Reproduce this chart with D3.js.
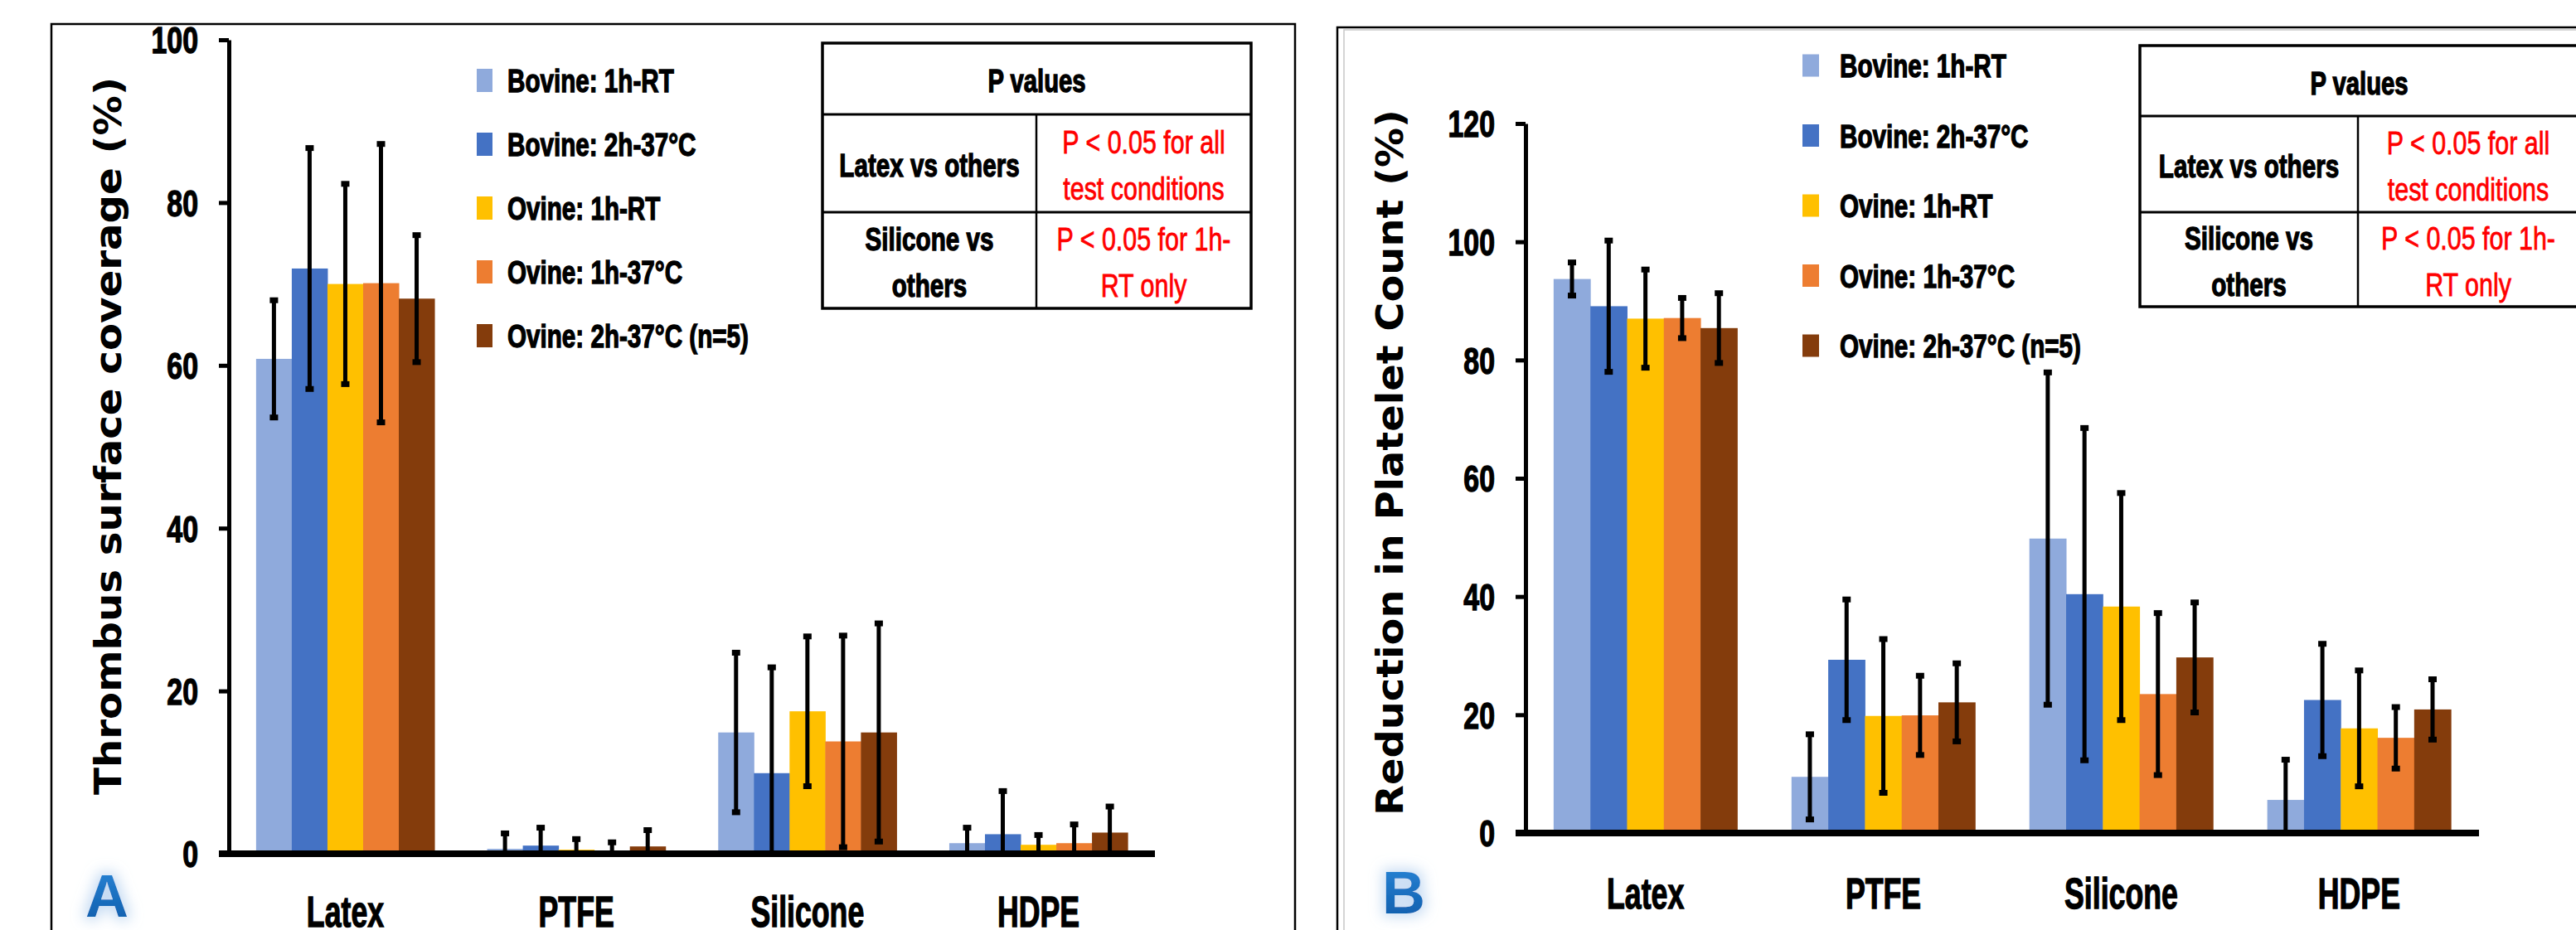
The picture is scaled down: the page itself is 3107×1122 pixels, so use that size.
<!DOCTYPE html>
<html lang="en">
<head>
<meta charset="utf-8">
<style>
  body { margin: 0; background: #fff; }
  svg { display: block; background: #fff; }
  .narrow { font-family: "Liberation Sans", Arial, sans-serif; }
  .heavy { stroke: #000; stroke-width: 1.3px; }
  .ytitle { font-family: "DejaVu Sans", Verdana, sans-serif; font-weight: bold; }
</style>
<script src="https://d3js.org/d3.v7.min.js"></script>
</head>
<body>
<script>
// data
var categories = ["Latex", "PTFE", "Silicone", "HDPE"];
var seriesNames = ["Bovine: 1h-RT", "Bovine: 2h-37°C", "Ovine: 1h-RT", "Ovine: 1h-37°C", "Ovine: 2h-37°C (n=5)"];

// panel A, thrombus coverage, one row per category, one value per series
var coverageMean = [
  [60.8, 71.9, 70.0, 70.1, 68.2],
  [0.6, 1.0, 0.5, 0.3, 0.9],
  [14.9, 9.9, 17.5, 13.8, 14.9],
  [1.3, 2.4, 1.1, 1.3, 2.6]
];
var coverageErr = [
  [7.2, 14.8, 12.3, 17.1, 7.8],
  [1.9, 2.2, 1.3, 1.1, 2.0],
  [9.8, 13.0, 9.2, 13.0, 13.4],
  [1.9, 5.3, 1.2, 2.3, 3.2]
];
var coverageTicks = [0, 20, 40, 60, 80, 100];

// panel B, platelet count reduction
var plateletMean = [
  [93.7, 89.1, 87.0, 87.1, 85.4],
  [9.5, 29.3, 19.8, 19.9, 22.1],
  [49.8, 40.4, 38.3, 23.5, 29.7],
  [5.6, 22.5, 17.7, 16.1, 20.9]
];
var plateletErr = [
  [2.8, 11.1, 8.3, 3.4, 5.9],
  [7.2, 10.2, 13.0, 6.7, 6.6],
  [28.1, 28.1, 19.2, 13.7, 9.3],
  [6.8, 9.5, 9.8, 5.2, 5.1]
];
var plateletTicks = [0, 20, 40, 60, 80, 100, 120];

var pHeader = "P values";
var pRows = [
  [["Latex vs others"], ["P < 0.05 for all", "test conditions"]],
  [["Silicone vs", "others"], ["P < 0.05 for 1h-", "RT only"]]
];

var colors = ["#8FAADC", "#4472C4", "#FFC000", "#ED7D31", "#843C0C"];

var width = 3107, height = 1122;

var svg = d3.select("body").append("svg")
  .attr("width", width)
  .attr("height", height);

// move x/y into a transform so the glyphs can be squeezed sideways
// (no condensed face is installed)
function squeeze(sel, k) {
  sel.each(function() {
    var t = d3.select(this);
    var x = +t.attr("x") || 0, y = +t.attr("y") || 0;
    t.attr("x", 0).attr("y", 0)
      .attr("transform", "translate(" + x + "," + y + ") scale(" + k + ",1)");
  });
}

// glow for the panel letters
var defs = svg.append("defs");
var glow = defs.append("filter").attr("id", "glow")
  .attr("x", "-50%").attr("y", "-50%").attr("width", "200%").attr("height", "200%");
glow.append("feMorphology").attr("in", "SourceAlpha").attr("operator", "dilate").attr("radius", 4).attr("result", "fat");
glow.append("feGaussianBlur").attr("in", "fat").attr("stdDeviation", 8).attr("result", "blur");
glow.append("feFlood").attr("flood-color", "#b9d3f0").attr("flood-opacity", 0.8);
glow.append("feComposite").attr("in2", "blur").attr("operator", "in").attr("result", "halo");
var gm = glow.append("feMerge");
gm.append("feMergeNode").attr("in", "halo");
gm.append("feMergeNode").attr("in", "SourceGraphic");

var grad = defs.append("linearGradient").attr("id", "letterFill")
  .attr("x1", 0).attr("y1", 0).attr("x2", 0).attr("y2", 1);
grad.append("stop").attr("offset", "0%").attr("stop-color", "#2a86d8");
grad.append("stop").attr("offset", "100%").attr("stop-color", "#0b5aa8");

var panels = [
  {
    mean: coverageMean, err: coverageErr, ticks: coverageTicks, max: 100,
    title: "Thrombus surface coverage  (%)", titleX: 130, titleY: 526, titleLen: 866,
    box: {x: 62, y: 29, w: 1500, h: 1200}, inner: false,
    axisX: 276, xEnd: 1393, yBottom: 1030, yTop: 48,
    legendX: 575, legendY: 97, legendStep: 77, sqW: 19, sqH: 28, legendTextX: 612,
    table: {x: 992, y: 52, w: 517, col: 258, rows: [86, 118, 116]},
    labelY: 1118, letter: "A", letterX: 129, letterY: 1106
  },
  {
    mean: plateletMean, err: plateletErr, ticks: plateletTicks, max: 120,
    title: "Reduction in Platelet Count (%)", titleX: 1676, titleY: 558, titleLen: 852,
    box: {x: 1613, y: 33, w: 1600, h: 1200}, inner: true,
    axisX: 1840, xEnd: 2990, yBottom: 1005, yTop: 149,
    legendX: 2174, legendY: 79, legendStep: 84.5, sqW: 20, sqH: 27, legendTextX: 2219,
    table: {x: 2581, y: 55, w: 529, col: 263, rows: [85, 116, 114]},
    labelY: 1096, letter: "B", letterX: 1693, letterY: 1102
  }
];

panels.forEach(function(p) {
  var g = svg.append("g");

  // panel frame
  g.append("rect")
    .attr("x", p.box.x).attr("y", p.box.y)
    .attr("width", p.box.w).attr("height", p.box.h)
    .attr("fill", "none").attr("stroke", "#000").attr("stroke-width", 2.5);
  if (p.inner) {
    g.append("rect")
      .attr("x", p.box.x + 8).attr("y", p.box.y + 3)
      .attr("width", p.box.w).attr("height", p.box.h)
      .attr("fill", "none").attr("stroke", "#c8c8c8").attr("stroke-width", 1.5);
  }

  var x0 = d3.scaleBand()
    .domain(categories)
    .range([p.axisX, p.xEnd])
    .paddingInner(0.228)
    .paddingOuter(0.118);

  var x1 = d3.scaleBand()
    .domain(d3.range(seriesNames.length))
    .range([0, x0.bandwidth()]);

  var y = d3.scaleLinear()
    .domain([0, p.max])
    .range([p.yBottom, p.yTop]);

  function rowsFor(d, i) {
    return p.mean[i].map(function(v, j) { return {s: j, v: v, e: p.err[i][j]}; });
  }

  // bars
  var groups = g.selectAll(".grp")
    .data(categories)
    .enter().append("g")
    .attr("class", "grp")
    .attr("transform", function(d) { return "translate(" + x0(d) + ",0)"; });

  groups.selectAll("rect")
    .data(rowsFor)
    .enter().append("rect")
    .attr("x", function(d) { return x1(d.s); })
    .attr("width", x1.bandwidth() + 0.5)
    .attr("y", function(d) { return y(d.v); })
    .attr("height", function(d) { return y(0) - y(d.v); })
    .attr("fill", function(d) { return colors[d.s]; });

  // error bars
  var eb = groups.selectAll(".eb")
    .data(rowsFor)
    .enter().append("g")
    .attr("class", "eb")
    .attr("transform", function(d) { return "translate(" + (x1(d.s) + x1.bandwidth() / 2) + ",0)"; });

  eb.append("line")
    .attr("y1", function(d) { return y(Math.max(0, d.v - d.e)); })
    .attr("y2", function(d) { return y(d.v + d.e); })
    .attr("stroke", "#000").attr("stroke-width", 5);
  eb.append("line")
    .attr("x1", -5).attr("x2", 5)
    .attr("y1", function(d) { return y(d.v + d.e); })
    .attr("y2", function(d) { return y(d.v + d.e); })
    .attr("stroke", "#000").attr("stroke-width", 7);
  eb.filter(function(d) { return d.v - d.e > 0; })
    .append("line")
    .attr("x1", -5).attr("x2", 5)
    .attr("y1", function(d) { return y(d.v - d.e); })
    .attr("y2", function(d) { return y(d.v - d.e); })
    .attr("stroke", "#000").attr("stroke-width", 7);

  // y axis
  var yAxis = g.append("g")
    .attr("transform", "translate(" + p.axisX + ",0)")
    .call(d3.axisLeft(y).tickValues(p.ticks).tickSize(12).tickSizeOuter(0).tickPadding(25));
  yAxis.select(".domain").attr("stroke", "#000").attr("stroke-width", 5);
  yAxis.selectAll(".tick line").attr("stroke", "#000").attr("stroke-width", 5);
  yAxis.selectAll(".tick text")
    .attr("class", "narrow heavy")
    .attr("font-size", 44).attr("font-weight", "bold").attr("fill", "#000")
    .attr("dy", "0.36em")
    .call(squeeze, 0.77);

  // x axis
  var xAxis = g.append("g")
    .attr("transform", "translate(0," + y(0) + ")")
    .call(d3.axisBottom(x0).tickSize(0));
  xAxis.select(".domain").remove();
  xAxis.append("line")
    .attr("x1", p.axisX - 12).attr("x2", p.xEnd)
    .attr("y1", 0).attr("y2", 0)
    .attr("stroke", "#000").attr("stroke-width", 8);
  xAxis.selectAll(".tick text")
    .attr("class", "narrow heavy")
    .attr("font-size", 51).attr("font-weight", "bold").attr("fill", "#000")
    .attr("dy", null)
    .attr("y", p.labelY - y(0))
    .call(squeeze, 0.70);

  // y title
  g.append("text")
    .attr("class", "ytitle")
    .attr("transform", "translate(" + p.titleX + "," + p.titleY + ") rotate(-90)")
    .attr("text-anchor", "middle")
    .attr("dy", "0.36em")
    .attr("font-size", 45)
    .attr("textLength", p.titleLen)
    .attr("lengthAdjust", "spacingAndGlyphs")
    .text(p.title);

  // legend
  var leg = g.selectAll(".leg")
    .data(seriesNames)
    .enter().append("g")
    .attr("transform", function(d, i) { return "translate(0," + (p.legendY + i * p.legendStep) + ")"; });
  leg.append("rect")
    .attr("x", p.legendX).attr("y", -p.sqH / 2)
    .attr("width", p.sqW).attr("height", p.sqH)
    .attr("fill", function(d, i) { return colors[i]; });
  leg.append("text")
    .attr("class", "narrow heavy")
    .attr("x", p.legendTextX).attr("y", 14)
    .attr("font-size", 38).attr("font-weight", "bold")
    .text(function(d) { return d; })
    .call(squeeze, 0.78);

  // p value table
  var t = p.table;
  var tg = g.append("g").attr("transform", "translate(" + t.x + "," + t.y + ")");
  var r1 = t.rows[0], r2 = t.rows[0] + t.rows[1], r3 = r2 + t.rows[2];
  tg.append("rect").attr("width", t.w).attr("height", r3)
    .attr("fill", "#fff").attr("stroke", "#000").attr("stroke-width", 3.5);
  tg.append("line").attr("x1", 0).attr("x2", t.w).attr("y1", r1).attr("y2", r1)
    .attr("stroke", "#000").attr("stroke-width", 3);
  tg.append("line").attr("x1", 0).attr("x2", t.w).attr("y1", r2).attr("y2", r2)
    .attr("stroke", "#000").attr("stroke-width", 3);
  tg.append("line").attr("x1", t.col).attr("x2", t.col).attr("y1", r1).attr("y2", r3)
    .attr("stroke", "#000").attr("stroke-width", 2.5);

  tg.append("text")
    .attr("class", "narrow heavy")
    .attr("x", t.w / 2).attr("y", r1 / 2 + 16)
    .attr("text-anchor", "middle")
    .attr("font-size", 38).attr("font-weight", "bold")
    .text(pHeader)
    .call(squeeze, 0.77);

  var rowTops = [r1, r2], rowBots = [r2, r3];
  pRows.forEach(function(row, ri) {
    var cy = (rowTops[ri] + rowBots[ri]) / 2;
    row.forEach(function(lines, ci) {
      var cx = ci === 0 ? t.col / 2 : (t.col + t.w) / 2;
      lines.forEach(function(line, li) {
        var off = lines.length === 1 ? 0 : (li === 0 ? -28 : 28);
        tg.append("text")
          .attr("class", ci === 0 ? "narrow heavy" : "narrow")
          .attr("x", cx).attr("y", cy + off + 16)
          .attr("text-anchor", "middle")
          .attr("font-size", 39)
          .attr("font-weight", ci === 0 ? "bold" : "normal")
          .attr("fill", ci === 0 ? "#000" : "#ff0000")
          .attr("stroke", ci === 0 ? null : "#ff0000")
          .attr("stroke-width", ci === 0 ? null : 0.8)
          .text(line)
          .call(squeeze, ci === 0 ? 0.76 : 0.78);
      });
    });
  });

  // panel letter
  g.append("text")
    .attr("x", p.letterX).attr("y", p.letterY)
    .attr("text-anchor", "middle")
    .attr("font-family", "Liberation Sans, Arial, sans-serif")
    .attr("font-size", 72)
    .attr("font-weight", "bold")
    .attr("fill", "url(#letterFill)")
    .attr("filter", "url(#glow)")
    .text(p.letter);
});
</script>
</body>
</html>
